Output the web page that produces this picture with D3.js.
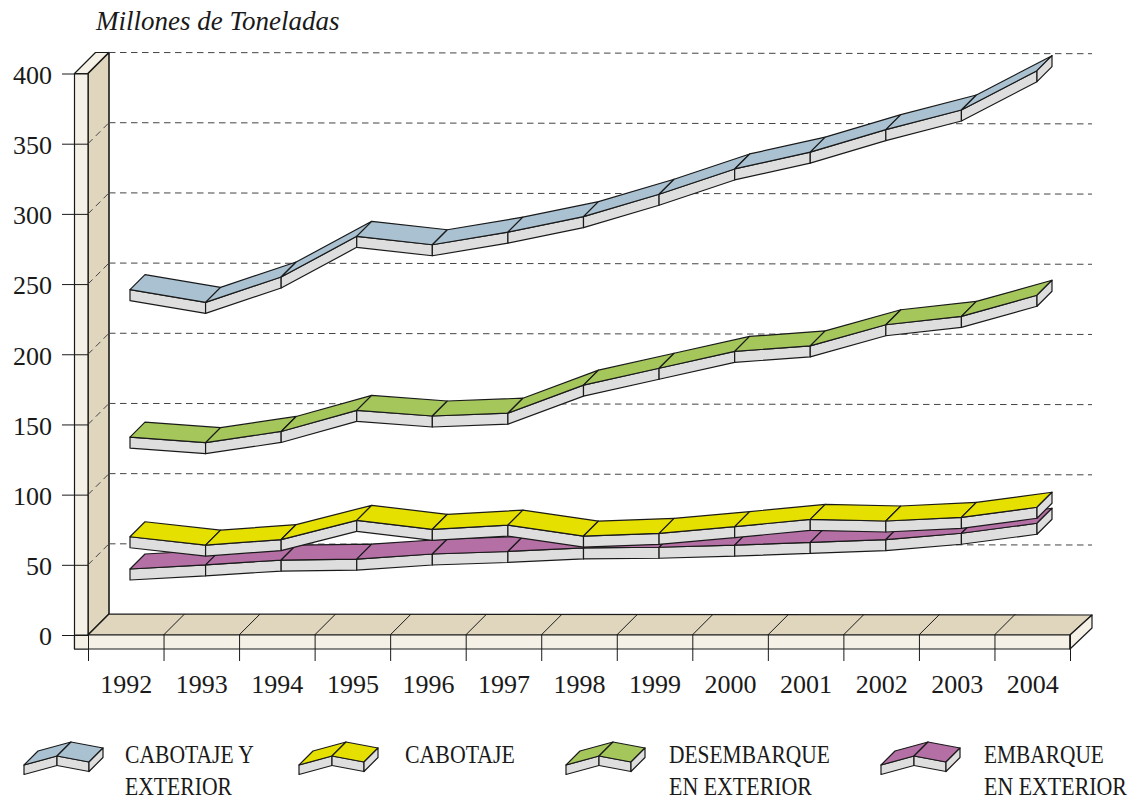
<!DOCTYPE html>
<html>
<head>
    <meta charset="utf-8">
    <style type="text/css">
        html, body { margin: 0; padding: 0; background: white; }
        text { font-family: "Liberation Serif", serif; fill: #1a1a1a; }
        .face { stroke: #1a1a1a; stroke-width: 1.2; stroke-linejoin: round; }
        .grid { stroke: #444; stroke-width: 1; stroke-dasharray: 6.5 4.5; fill: none; }
    </style>
</head>
<body>
<svg id="graph" width="1133" height="801"></svg>
<script src="https://d3js.org/d3.v7.min.js"></script>
<script type="text/javascript">
// values, millions of tonnes
const years = [1992, 1993, 1994, 1995, 1996, 1997, 1998, 1999, 2000, 2001, 2002, 2003, 2004];
const yTicks = [0, 50, 100, 150, 200, 250, 300, 350, 400];
const cabotajeExterior = [246, 237, 255, 284, 278, 287, 298, 314, 332, 344, 360, 374, 402];
const desembarque = [141, 137, 145, 160, 156, 158, 178, 190, 202, 206, 221, 227, 242];
const cabotaje = [70, 64, 68, 81.7, 75.3, 78.3, 70.5, 72.4, 77.2, 82.4, 81.2, 83.8, 91];
const embarque = [47, 50, 53.4, 54.1, 57.7, 59.5, 62, 62.5, 64, 66, 68, 72.5, 79.6];

const seriesColors = {
    blue: "#a9c1d1",
    yellow: "#e6e000",
    green: "#a4c65a",
    purple: "#b46fa5"
};
const sideColor = "#dedede";
const floorColor = "#e0d6be";
const panelColor = "#f5f1e7";

const svg = d3.select("#graph");
const left = 88, right = 1070, base = 635, depth = 21, wallFront = 13.5, panel = 14;

const y = d3.scaleLinear().domain([0, 400]).range([base, 73.5]);
const xEdge = d3.scaleLinear().domain([0, years.length]).range([left, right]);
const xPoint = d3.scalePoint().domain(years).range([130, 1037]);

function poly(g, pts, fill) {
    return g.append("polygon").attr("class", "face")
        .attr("points", pts.map(function(p) { return p.join(","); }).join(" "))
        .attr("fill", fill);
}

// back wall, floor and the two front panels
const frame = svg.append("g");
poly(frame, [[left - wallFront, y(400)], [left, y(400)], [left + depth, y(400) - depth], [left + depth - wallFront, y(400) - depth]], panelColor);
poly(frame, [[left, base], [left, y(400)], [left + depth, y(400) - depth], [left + depth, base - depth]], floorColor)
    .style("stroke-width", 1.6);
poly(frame, [[left - wallFront, y(400)], [left, y(400)], [left, base + panel], [left - wallFront, base + panel]], panelColor);

// gridlines, they run very slightly downhill in the original
const grid = svg.append("g");
yTicks.slice(1).forEach(function(v) {
    grid.append("line").attr("class", "grid")
        .attr("x1", left + depth).attr("x2", right + 22)
        .attr("y1", y(v) - depth).attr("y2", y(v) - depth + 1.2);
    if (v < 400) {
        grid.append("line").attr("class", "grid")
            .attr("x1", left).attr("x2", left + depth)
            .attr("y1", y(v)).attr("y2", y(v) - depth);
    }
});

// floor
const floor = svg.append("g");
poly(floor, [[left, base], [left + depth, base - depth], [right + 22, base - 20], [right, base]], floorColor);
poly(floor, [[left - wallFront, base], [right, base], [right, base + panel], [left - wallFront, base + panel]], panelColor);
poly(floor, [[right, base], [right + 22, base - 20], [right + 22, base - 7], [right, base + panel]], panelColor);
d3.range(1, years.length).forEach(function(i) {
    floor.append("line").attr("stroke", "#1a1a1a")
        .attr("x1", xEdge(i)).attr("y1", base)
        .attr("x2", xEdge(i) + depth).attr("y2", base - depth);
});

// ribbon: one top face and one side face per segment
function ribbon(g, pts, color, off, thick) {
    d3.pairs(pts).forEach(function(seg) {
        const a = seg[0], b = seg[1];
        poly(g, [a, b, [b[0], b[1] + thick], [a[0], a[1] + thick]], sideColor);
        poly(g, [a, b, [b[0] + off, b[1] - off], [a[0] + off, a[1] - off]], color);
    });
    const e = pts[pts.length - 1];
    poly(g, [e, [e[0] + off, e[1] - off], [e[0] + off, e[1] - off + thick], [e[0], e[1] + thick]], sideColor);
}

function seriesPoints(values) {
    return values.map(function(v, i) { return [xPoint(years[i]), y(v)]; });
}

const marks = svg.append("g");
ribbon(marks, seriesPoints(cabotajeExterior), seriesColors.blue, 15, 11);
ribbon(marks, seriesPoints(desembarque), seriesColors.green, 15, 11);
ribbon(marks, seriesPoints(embarque), seriesColors.purple, 15, 11);
ribbon(marks, seriesPoints(cabotaje), seriesColors.yellow, 15, 11);

// axes
const yAxis = d3.axisLeft(y).tickValues(yTicks).tickSize(26).tickPadding(10);
svg.append("g").attr("transform", "translate(" + left + ",0)").call(yAxis)
    .call(function(g) {
        g.select(".domain").remove();
        g.selectAll("line").attr("stroke", "#1a1a1a");
        g.selectAll("text").attr("fill", "#1a1a1a").attr("font-family", "Liberation Serif").attr("font-size", 26).attr("dy", "0.38em");
    });

const xAxis = d3.axisBottom(xEdge).tickValues(d3.range(years.length + 1)).tickSize(26).tickFormat("");
svg.append("g").attr("transform", "translate(0," + base + ")").call(xAxis)
    .call(function(g) {
        g.select(".domain").remove();
        g.selectAll("line").attr("stroke", "#1a1a1a");
    });

svg.append("g").selectAll("text").data(years).enter().append("text")
    .attr("x", function(d, i) { return xEdge(i + 0.5) + 0.5; })
    .attr("y", 693)
    .attr("text-anchor", "middle")
    .attr("font-size", 26)
    .text(function(d) { return d; });

svg.append("text").attr("x", 96).attr("y", 30)
    .attr("font-size", 27).attr("font-style", "italic")
    .text("Millones de Toneladas");

// legend, the widths squeeze the labels to the narrower book face of the original
const legendItems = [
    { lines: ["CABOTAJE Y", "EXTERIOR"], widths: [129, 107], color: seriesColors.blue, icon: 24, label: 125 },
    { lines: ["CABOTAJE"], widths: [110], color: seriesColors.yellow, icon: 299, label: 405 },
    { lines: ["DESEMBARQUE", "EN EXTERIOR"], widths: [161, 143], color: seriesColors.green, icon: 566, label: 669 },
    { lines: ["EMBARQUE", "EN EXTERIOR"], widths: [120, 143], color: seriesColors.purple, icon: 881, label: 984 }
];
const legend = svg.append("g");
legendItems.forEach(function(d) {
    ribbon(legend, [[d.icon, 765], [d.icon + 33, 756], [d.icon + 65, 762]], d.color, 14, 9.5);
    d.lines.forEach(function(t, i) {
        const label = legend.append("text").attr("font-size", 25).text(t);
        const squeeze = d.widths[i] / label.node().getComputedTextLength();
        label.attr("transform", "translate(" + d.label + "," + (763 + i * 32) + ") scale(" + squeeze + ",1)");
    });
});
</script>
</body>
</html>
